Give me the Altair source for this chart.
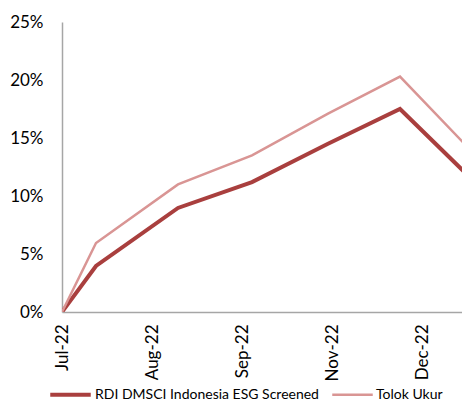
import altair as alt
import pandas as pd

# Data
dates = ["2022-07-01", "2022-07-18", "2022-08-28", "2022-10-04",
         "2022-11-11", "2022-12-17", "2023-01-21"]
rdi = [0.0, 3.97, 8.97, 11.2, 14.5, 17.5, 11.6]        # RDI DMSCI Indonesia ESG Screened (%)
tolok = [0.0, 5.95, 11.0, 13.5, 17.1, 20.3, 14.0]      # Tolok Ukur (%)
series_names = ["RDI DMSCI Indonesia ESG Screened", "Tolok Ukur"]
tick_dates = ["2022-07-01", "2022-08-15", "2022-09-29", "2022-11-13", "2022-12-28"]
x_domain = ["2022-07-01", "2023-01-17"]
y_ticks = [0, 0.05, 0.10, 0.15, 0.20, 0.25]


def ms(d):
    return int(pd.Timestamp(d, tz="UTC").value // 10**6)


rows = []
for name, vals in zip(series_names, [rdi, tolok]):
    for d, v in zip(dates, vals):
        rows.append({"date": ms(d), "value": v / 100.0, "series": name})
df = pd.DataFrame(rows)

FONT = "Lato"

chart = alt.Chart(df).mark_line(strokeJoin="miter", clip=True).encode(
    x=alt.X("date:T",
            scale=alt.Scale(type="utc", domain=[ms(d) for d in x_domain], nice=False),
            axis=alt.Axis(values=[ms(d) for d in tick_dates],
                          labelExpr="utcFormat(datum.value, '%b-%y')",
                          labelAngle=-90, labelFontSize=17, labelFont=FONT, labelColor="#000000",
                          ticks=False, grid=False, domainColor="#a6a6a6", domainWidth=1.5,
                          labelPadding=12, title=None, labelOverlap=False, labelFlush=False)),
    y=alt.Y("value:Q",
            scale=alt.Scale(domain=[0, 0.25], nice=False),
            axis=alt.Axis(values=y_ticks, format=".0%", labelFontSize=17, labelFont=FONT,
                          labelColor="#000000", ticks=False, grid=False, domainColor="#a6a6a6",
                          domainWidth=1.5, labelPadding=19, title=None)),
    color=alt.Color("series:N",
                    scale=alt.Scale(domain=series_names, range=["#a93f3e", "#d99594"]),
                    legend=alt.Legend(orient="none", legendX=-14, legendY=350, direction="horizontal",
                                      title=None, symbolType="stroke", symbolSize=1640,
                                      labelFontSize=14, labelFont=FONT, labelColor="#000000",
                                      labelLimit=400, columnPadding=8, labelOffset=2)),
    strokeWidth=alt.StrokeWidth("series:N",
                                scale=alt.Scale(domain=series_names, range=[4, 2.5]),
                                legend=None),
    order=alt.Order("date:T"),
).properties(
    width=400,
    height=290,
    autosize="none",
    padding={"left": 54, "top": 14, "right": 0, "bottom": 91},
).configure_view(stroke=None)

chart.save("out.html", embed_options={"renderer": "svg", "actions": False})
